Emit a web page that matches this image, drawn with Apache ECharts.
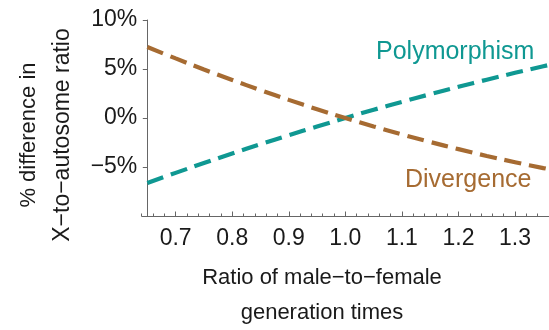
<!DOCTYPE html>
<html>
<head>
<meta charset="utf-8">
<script src="https://cdn.jsdelivr.net/npm/echarts@6/dist/echarts.min.js"></script>
<style>
  html, body { margin: 0; padding: 0; background: #fff; }
  #chart { width: 549px; height: 330px; }
</style>
</head>
<body>
<div id="chart"></div>
<script>
// Ratio of male-to-female generation times (x) and % difference in X-to-autosome ratio (y)
const ratios = [0.65, 0.70, 0.75, 0.80, 0.85, 0.90, 0.95, 1.00, 1.05, 1.10, 1.15, 1.20, 1.25, 1.30, 1.35, 1.36];
const polymorphism = [-6.63, -5.60, -4.60, -3.62, -2.68, -1.76, -0.87, 0, 0.84, 1.65, 2.43, 3.18, 3.91, 4.61, 5.28, 5.41];
const divergence = [7.24, 6.08, 4.95, 3.88, 2.84, 1.85, 0.90, 0, -0.86, -1.68, -2.45, -3.18, -3.87, -4.51, -5.11, -5.22];

const xMajorTicks = [0.7, 0.8, 0.9, 1.0, 1.1, 1.2, 1.3];
const xMinorTicks = [0.64, 0.66, 0.68, 0.70, 0.72, 0.74, 0.76, 0.78, 0.80, 0.82, 0.84, 0.86, 0.88, 0.90,
  0.92, 0.94, 0.96, 0.98, 1.00, 1.02, 1.04, 1.06, 1.08, 1.10, 1.12, 1.14, 1.16, 1.18, 1.20,
  1.22, 1.24, 1.26, 1.28, 1.30, 1.32, 1.34];
const yTicks = [-10, -5, 0, 5, 10];
const yTickLabels = { '10': '10%', '5': '5%', '0': '0%', '-5': '\u22125%', '-10': '' };

const TEAL = '#0f9892';
const BROWN = '#a66b32';
const AXIS = '#666666';
const TEXT = '#1a1a1a';
const FONT = '"Liberation Sans", Arial, Helvetica, sans-serif';

const toPairs = (ys) => ratios.map((x, i) => [x, ys[i]]);

const chart = echarts.init(document.getElementById('chart'), null, { renderer: 'canvas' });

chart.setOption({
  animation: false,
  backgroundColor: '#ffffff',
  grid: { left: 141.7, top: 20, width: 411.8, height: 196, containLabel: false },
  xAxis: [
    {
      type: 'value', min: 0.64, max: 1.36, position: 'bottom',
      axisLine: { show: true, onZero: false, lineStyle: { color: AXIS, width: 1 } },
      axisTick: { show: true, inside: true, length: 2.5, customValues: xMinorTicks, lineStyle: { color: AXIS } },
      axisLabel: {
        show: true, customValues: xMajorTicks, margin: 11,
        formatter: (v) => v.toFixed(1),
        color: TEXT, fontSize: 23, fontFamily: FONT
      },
      splitLine: { show: false }
    },
    {
      type: 'value', min: 0.64, max: 1.36, position: 'bottom',
      axisLine: { show: false, onZero: false },
      axisTick: { show: true, inside: true, length: 4.5, customValues: xMajorTicks, lineStyle: { color: AXIS } },
      axisLabel: { show: false },
      splitLine: { show: false }
    }
  ],
  yAxis: {
    type: 'value', min: -10, max: 10, offset: -5.6,
    axisLine: { show: true, onZero: false, lineStyle: { color: AXIS, width: 1 } },
    axisTick: { show: true, inside: false, length: 4.5, customValues: yTicks, lineStyle: { color: AXIS } },
    axisLabel: {
      customValues: yTicks, margin: 10,
      formatter: (v) => yTickLabels[String(Math.round(v))],
      color: TEXT, fontSize: 23, fontFamily: FONT
    },
    splitLine: { show: false }
  },
  series: [
    {
      name: 'Polymorphism', type: 'line', data: toPairs(polymorphism),
      smooth: true, symbol: 'none', clip: true,
      lineStyle: { color: TEAL, width: 4.2, type: [17, 8], cap: 'butt' }
    },
    {
      name: 'Divergence', type: 'line', data: toPairs(divergence),
      smooth: true, symbol: 'none', clip: true,
      lineStyle: { color: BROWN, width: 4.2, type: [17, 8], cap: 'butt' }
    }
  ],
  graphic: [
    { type: 'text', left: 376, top: 40, style: { text: 'Polymorphism', fill: TEAL, font: '25px ' + FONT } },
    { type: 'text', left: 405, top: 168, style: { text: 'Divergence', fill: BROWN, font: '25px ' + FONT } },
    {
      type: 'text', x: 322, y: 278,
      style: { text: 'Ratio of male\u2212to\u2212female', fill: TEXT, font: '22px ' + FONT, align: 'center', verticalAlign: 'middle' }
    },
    {
      type: 'text', x: 322, y: 313,
      style: { text: 'generation times', fill: TEXT, font: '22px ' + FONT, align: 'center', verticalAlign: 'middle' }
    },
    {
      type: 'text', x: 29, y: 135, rotation: Math.PI / 2,
      style: { text: '% difference in', fill: TEXT, font: '22px ' + FONT, align: 'center', verticalAlign: 'middle' }
    },
    {
      type: 'text', x: 63, y: 135, rotation: Math.PI / 2,
      style: { text: 'X\u2212to\u2212autosome ratio', fill: TEXT, font: '23px ' + FONT, align: 'center', verticalAlign: 'middle' }
    }
  ]
});
</script>
</body>
</html>
